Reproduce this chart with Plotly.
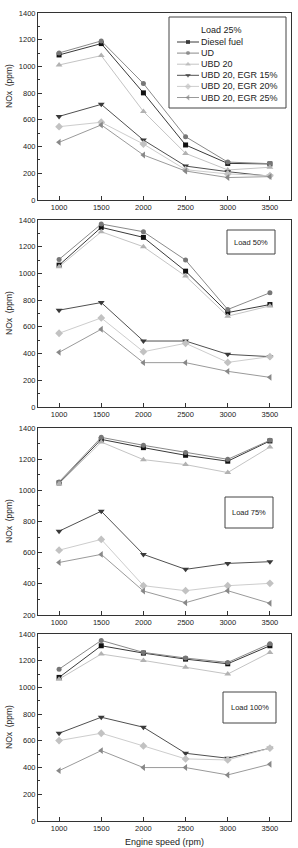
import plotly.graph_objects as go

speeds = [1000, 1500, 2000, 2500, 3000, 3500]
series_names = ["Diesel fuel", "UD", "UBD 20", "UBD 20, EGR 15%", "UBD 20, EGR 20%", "UBD 20, EGR 25%"]

# Load 25%
l25_diesel = [1086, 1171, 802, 412, 274, 270]
l25_ud = [1101, 1191, 872, 474, 284, 272]
l25_ubd20 = [1011, 1081, 663, 349, 225, 245]
l25_egr15 = [626, 716, 449, 254, 212, 178]
l25_egr20 = [549, 582, 419, 227, 195, 182]
l25_egr25 = [432, 562, 337, 217, 168, 175]

# Load 50%
l50_diesel = [1062, 1345, 1270, 1017, 707, 767]
l50_ud = [1105, 1370, 1312, 1100, 730, 855]
l50_ubd20 = [1050, 1312, 1200, 980, 680, 757]
l50_egr15 = [725, 782, 494, 494, 394, 377]
l50_egr20 = [552, 667, 414, 477, 334, 377]
l50_egr25 = [409, 582, 332, 332, 267, 222]

# Load 75%
l75_diesel = [1048, 1327, 1274, 1225, 1187, 1317]
l75_ud = [1054, 1340, 1289, 1242, 1199, 1321]
l75_ubd20 = [1043, 1310, 1197, 1165, 1114, 1278]
l75_egr15 = [738, 866, 589, 493, 531, 542]
l75_egr20 = [616, 685, 388, 356, 388, 403]
l75_egr25 = [537, 589, 354, 279, 356, 275]

# Load 100%
l100_diesel = [1075, 1312, 1257, 1212, 1177, 1312]
l100_ud = [1137, 1352, 1262, 1220, 1187, 1327]
l100_ubd20 = [1062, 1250, 1202, 1152, 1100, 1262]
l100_egr15 = [657, 777, 702, 507, 470, 545]
l100_egr20 = [602, 657, 562, 465, 457, 545]
l100_egr25 = [377, 527, 400, 400, 345, 425]

panels = [
    [l25_diesel, l25_ud, l25_ubd20, l25_egr15, l25_egr20, l25_egr25],
    [l50_diesel, l50_ud, l50_ubd20, l50_egr15, l50_egr20, l50_egr25],
    [l75_diesel, l75_ud, l75_ubd20, l75_egr15, l75_egr20, l75_egr25],
    [l100_diesel, l100_ud, l100_ubd20, l100_egr15, l100_egr20, l100_egr25],
]
load_labels = ["Load 25%", "Load 50%", "Load 75%", "Load 100%"]
y_ranges = [[0, 1400], [0, 1400], [200, 1400], [0, 1400]]
y_ticks = [list(range(0, 1401, 200)), list(range(0, 1401, 200)),
           list(range(200, 1401, 200)), list(range(0, 1401, 200))]

symbols = ["square", "circle", "triangle-up", "triangle-down", "diamond", "triangle-left"]
marker_colors = ["#111111", "#777777", "#b2b2b2", "#3a3a3a", "#c2c2c2", "#888888"]
line_colors = ["#3a3a3a", "#8a8a8a", "#c4c4c4", "#505050", "#cdcdcd", "#9a9a9a"]
marker_sizes = [5, 5, 6, 6, 6, 6]

FONT = "Liberation Sans, Arial, sans-serif"
W, H = 298, 848
ML, MR, MT, MB = 38, 7, 13, 27
PW = W - ML - MR
PH = H - MT - MB

def px_x(px):
    return (px - ML) / PW

def px_y(py):
    return (H - MB - py) / PH

# panel pixel extents (top, bottom)
panel_px = [(13, 200), (220, 407), (428, 615), (634, 821)]

fig = go.Figure()
layout = dict(
    width=W, height=H,
    margin=dict(l=ML, r=MR, t=MT, b=MB, pad=0),
    paper_bgcolor="white", plot_bgcolor="rgba(0,0,0,0)",
    showlegend=False,
    font=dict(family=FONT, size=8, color="#222222"),
)

for i, vals in enumerate(panels):
    n = "" if i == 0 else str(i + 1)
    for k, v in enumerate(vals):
        fig.add_trace(go.Scatter(
            x=speeds, y=v, mode="lines+markers", name=series_names[k],
            xaxis="x" + n, yaxis="y" + n,
            line=dict(color=line_colors[k], width=1),
            marker=dict(symbol=symbols[k], size=marker_sizes[k], color=marker_colors[k],
                        line=dict(width=0)),
        ))
    top, bot = panel_px[i]
    layout["xaxis" + n] = dict(
        domain=[0, 1], anchor="y" + n, range=[750, 3750],
        tickvals=speeds, ticks="inside", ticklen=4, tickcolor="#333333",
        showline=True, linecolor="#333333", linewidth=1, mirror=True,
        showgrid=False, zeroline=False,
        tickfont=dict(family=FONT, size=7.5, color="#222222"),
    )
    layout["yaxis" + n] = dict(
        domain=[px_y(bot), px_y(top)], anchor="x" + n, range=y_ranges[i],
        tickvals=y_ticks[i], ticks="inside", ticklen=4, tickcolor="#333333",
        minor=dict(dtick=100, ticks="inside", ticklen=2, tickcolor="#333333", showgrid=False),
        showline=True, linecolor="#333333", linewidth=1, mirror=True,
        showgrid=False, zeroline=False,
        tickfont=dict(family=FONT, size=7.5, color="#222222"),
    )

annotations = []
shapes = []

# y-axis titles
ytitle_centers = [86, 313, 521, 727]
for yc in ytitle_centers:
    annotations.append(dict(
        text="NOx  (ppm)", xref="paper", yref="paper", x=px_x(9), y=px_y(yc),
        textangle=-90, showarrow=False, xanchor="center", yanchor="middle",
        font=dict(family=FONT, size=8.5, color="#222222"),
    ))

# x-axis title
annotations.append(dict(
    text="Engine speed (rpm)", xref="paper", yref="paper", x=0.5, y=px_y(842),
    showarrow=False, xanchor="center", yanchor="middle",
    font=dict(family=FONT, size=9, color="#222222"),
))

# Load boxes for panels 2-4
load_boxes = [(227, 275, 230, 254), (225, 273, 497, 528), (223, 276, 692, 723)]
for j, (x0, x1, y0, y1) in enumerate(load_boxes):
    shapes.append(dict(type="rect", xref="paper", yref="paper",
                       x0=px_x(x0), x1=px_x(x1), y0=px_y(y1), y1=px_y(y0),
                       line=dict(color="#444444", width=1), fillcolor="white", layer="below"))
    annotations.append(dict(
        text=load_labels[j + 1], xref="paper", yref="paper",
        x=px_x((x0 + x1) / 2), y=px_y((y0 + y1) / 2),
        showarrow=False, xanchor="center", yanchor="middle",
        font=dict(family=FONT, size=7.5, color="#222222"),
    ))

# Legend for panel 1 (drawn manually, compact)
shapes.append(dict(type="rect", xref="paper", yref="paper",
                   x0=px_x(169), x1=px_x(286), y0=px_y(108), y1=px_y(17),
                   line=dict(color="#444444", width=1), fillcolor="white", layer="below"))
annotations.append(dict(
    text=load_labels[0], xref="paper", yref="paper", x=px_x(199), y=px_y(30),
    showarrow=False, xanchor="left", yanchor="middle",
    font=dict(family=FONT, size=9, color="#222222"),
))
# legend glyph axes in pixel units, overlaid on panel 1
layout["xaxis5"] = dict(overlaying="x", anchor="y5", range=[ML, W - MR], visible=False, fixedrange=True)
layout["yaxis5"] = dict(overlaying="y", anchor="x5", range=[200, 13], visible=False, fixedrange=True)
for k, name in enumerate(series_names):
    ry = 42 + 11.1 * k
    fig.add_trace(go.Scatter(
        x=[177, 188, 199], y=[ry, ry, ry], mode="lines+markers", xaxis="x5", yaxis="y5",
        line=dict(color=line_colors[k], width=1),
        marker=dict(symbol=symbols[k], size=[0, marker_sizes[k] - 1, 0], color=marker_colors[k],
                    line=dict(width=0)),
        hoverinfo="skip",
    ))
    annotations.append(dict(
        text=name, xref="paper", yref="paper", x=px_x(199), y=px_y(ry),
        showarrow=False, xanchor="left", yanchor="middle",
        font=dict(family=FONT, size=9, color="#222222"),
    ))

layout["annotations"] = annotations
layout["shapes"] = shapes
fig.update_layout(**layout)
fig.write_html("out.html")
